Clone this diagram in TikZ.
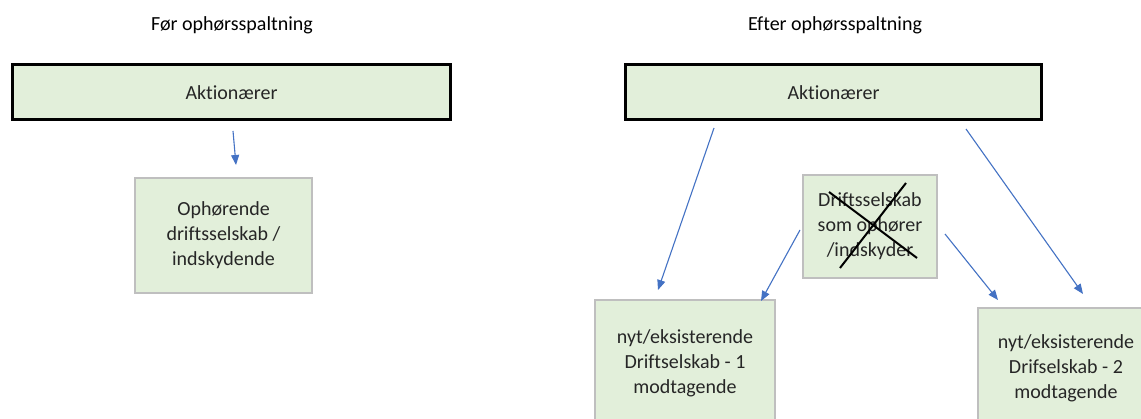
\documentclass[tikz,border=0pt]{standalone}
\usepackage{fontspec}
\setmainfont{Carlito}[Ligatures={NoCommon}]
\usetikzlibrary{arrows.meta}
\definecolor{boxfill}{HTML}{E2EFDA}
\definecolor{boxline}{HTML}{BFBFBF}
\definecolor{arrowblue}{HTML}{4472C4}
\definecolor{txtgray}{HTML}{262626}
\begin{document}
\begin{tikzpicture}[x=1pt,y=-1pt,
  every node/.style={font=\fontsize{20}{25}\selectfont, text=txtgray},
  titletext/.style={text=black},
  topbox/.style={draw=black, line width=3pt, fill=boxfill, minimum height=55pt, inner sep=0pt},
  greenbox/.style={draw=boxline, line width=1.2pt, fill=boxfill, inner sep=0pt, align=center},
  bluearrow/.style={draw=arrowblue, line width=1.1pt, -{Triangle[length=10pt,width=8pt]}},
  crossline/.style={draw=black, line width=2pt}]
\clip (0,0) rectangle (1141,419);
\fill[white] (0,0) rectangle (1141,419);
% titles
\node[titletext] (titleL) at (232,25) {Før ophørsspaltning};
\node[titletext] (titleR) at (835,25) {Efter ophørsspaltning};
% top boxes
\node[topbox, minimum width=438pt] (aktL) at (231.5,92.5) {Aktionærer};
\node[topbox, minimum width=416pt] (aktR) at (833.5,92.5) {Aktionærer};
% left side
\node[greenbox, minimum width=177pt, minimum height=115pt] (oph) at (223.5,235.5) {Ophørende\\driftsselskab /\\indskydende};
% right side
\node[greenbox, minimum width=134pt, minimum height=103pt] (drift) at (870,226.5) {Driftsselskab\\som ophører\\/indskyder};
\node[greenbox, minimum width=180pt, minimum height=126pt] (ny1) at (685,363) {nyt/eksisterende\\Driftselskab - 1\\modtagende};
\node[greenbox, minimum width=176pt, minimum height=120pt] (ny2) at (1066,368) {nyt/eksisterende\\Drifselskab - 2\\modtagende};
% cross over the ceasing company
\coordinate (xa1) at (829,192);
\coordinate (xa2) at (917,258);
\coordinate (xb1) at (906,183);
\coordinate (xb2) at (840,268);
\draw[crossline] (xa1) -- (xa2);
\draw[crossline] (xb1) -- (xb2);
% arrow end points
\coordinate (a1s) at (233,131);
\coordinate (a1e) at (236,165);
\coordinate (a2s) at (714,128);
\coordinate (a2e) at (658,290);
\coordinate (a3s) at (966,129);
\coordinate (a3e) at (1083,294);
\coordinate (a4s) at (800,230);
\coordinate (a4e) at (761,301);
\coordinate (a5s) at (945,234);
\coordinate (a5e) at (998,300);
\draw[bluearrow] (a1s) -- (a1e);
\draw[bluearrow] (a2s) -- (a2e);
\draw[bluearrow] (a3s) -- (a3e);
\draw[bluearrow] (a4s) -- (a4e);
\draw[bluearrow] (a5s) -- (a5e);
\end{tikzpicture}
\end{document}
